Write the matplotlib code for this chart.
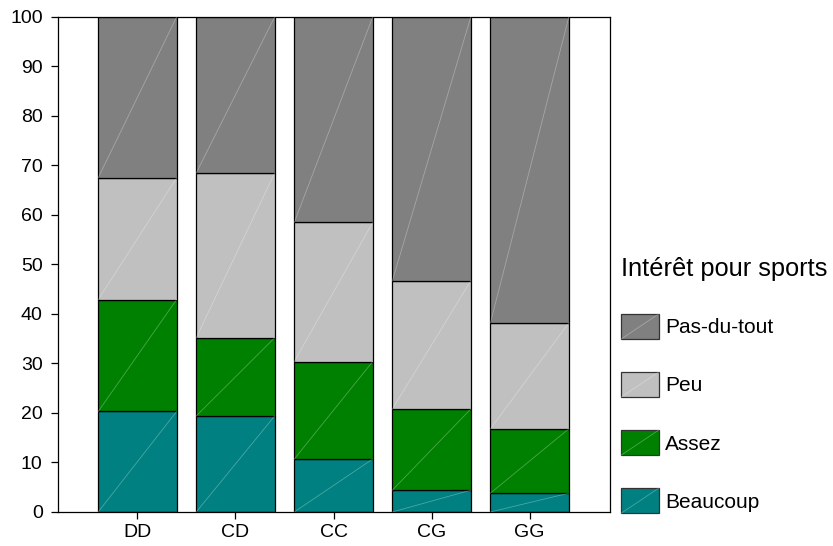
import numpy as np
import matplotlib
matplotlib.use("Agg")
import matplotlib.pyplot as plt
from matplotlib.patches import Rectangle
from matplotlib.lines import Line2D
from matplotlib.legend_handler import HandlerPatch

plt.rcParams["font.family"] = ["Liberation Sans", "DejaVu Sans"]

categories = ["DD", "CD", "CC", "CG", "GG"]
beaucoup = [20.3, 19.4, 10.7, 4.4, 3.8]
assez = [22.6, 15.8, 19.7, 16.4, 13.0]
peu = [24.6, 33.3, 28.1, 25.9, 21.4]
pas_du_tout = [32.5, 31.5, 41.5, 53.3, 61.8]

series = [("Beaucoup", beaucoup, "#008080"),
          ("Assez", assez, "#008000"),
          ("Peu", peu, "#C0C0C0"),
          ("Pas-du-tout", pas_du_tout, "#808080")]


class DiagHandler(HandlerPatch):
    def create_artists(self, legend, orig_handle, xdescent, ydescent,
                       width, height, fontsize, trans):
        r = Rectangle((-xdescent, -ydescent), width, height,
                      facecolor=orig_handle.get_facecolor(),
                      edgecolor="#333333", linewidth=0.9, transform=trans)
        ln = Line2D([-xdescent, -xdescent + width], [-ydescent, -ydescent + height],
                    color="white", alpha=0.3, linewidth=0.6, transform=trans)
        return [r, ln]


fig = plt.figure(figsize=(8.33, 5.46), dpi=100)
ax = fig.add_axes([0.0696, 0.0623, 0.6627, 0.9066])

x = np.arange(len(categories))
bottom = np.zeros(len(categories))
handles = []
for name, vals, color in series:
    bars = ax.bar(x, vals, 0.8, bottom=bottom, color=color,
                  edgecolor="black", linewidth=0.9, label=name, zorder=2)
    # diagonale claire dans chaque segment
    for b in bars:
        bx, by, bw, bh = b.get_x(), b.get_y(), b.get_width(), b.get_height()
        ax.plot([bx, bx + bw], [by, by + bh], color="white", alpha=0.3,
                linewidth=0.6, zorder=3)
    handles.append(bars[0])
    bottom += np.array(vals)

ax.set_xlim(-0.81, 4.82)
ax.set_ylim(0, 100)
ax.set_yticks(np.arange(0, 101, 10))
ax.set_xticks(x)
ax.set_xticklabels(categories)
ax.tick_params(labelsize=14, length=5, width=0.9, direction="out")
ax.tick_params(axis="y", pad=6)
for sp in ax.spines.values():
    sp.set_linewidth(0.9)

leg = fig.legend(handles[::-1], [s[0] for s in series][::-1],
                 title="Intérêt pour sports", loc="upper left",
                 bbox_to_anchor=(0.736, 0.545), frameon=False,
                 fontsize=15, title_fontsize=18.3, labelspacing=1.6,
                 handlelength=1.78, handleheight=1.45, handletextpad=0.3,
                 borderaxespad=0, handler_map={Rectangle: DiagHandler()})
leg._legend_box.align = "left"

fig.savefig("out.png", dpi=100)
